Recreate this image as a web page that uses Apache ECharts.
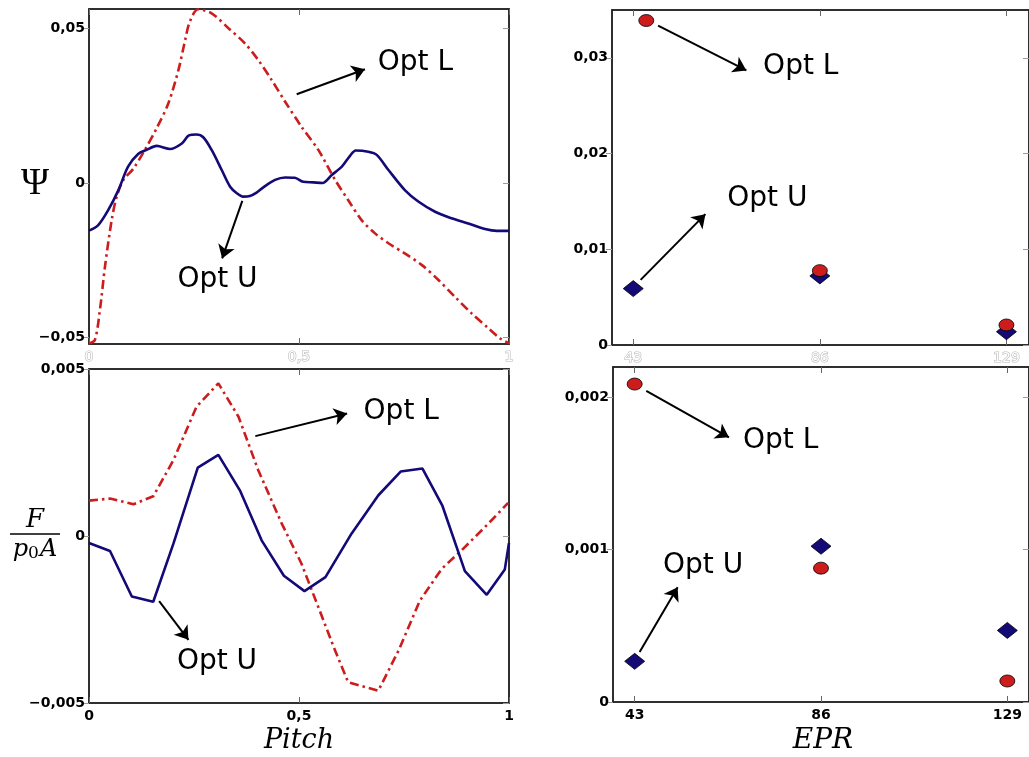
<!DOCTYPE html>
<html>
<head>
<meta charset="utf-8">
<script src="https://cdn.jsdelivr.net/npm/echarts@6/dist/echarts.min.js"></script>
<style>
html,body{margin:0;padding:0;background:#fff;}
#chart{width:1029px;height:757px;}
</style>
</head>
<body>
<div id="chart"></div>
<script>
// ---------- DATA ----------
// Top-left: Psi vs Pitch
const pitchTopU = [0,0.022,0.046,0.070,0.093,0.117,0.137,0.161,0.193,0.221,0.237,0.256,0.272,0.292,0.316,0.336,0.352,0.367,0.383,0.399,0.415,0.443,0.467,0.490,0.510,0.534,0.556,0.578,0.602,0.621,0.635,0.665,0.685,0.713,0.752,0.784,0.824,0.863,0.903,0.943,0.971,1.0];
const psiOptU   = [-0.0154,-0.0136,-0.0087,-0.0023,0.0053,0.0094,0.0107,0.0120,0.0110,0.0128,0.0153,0.0157,0.0148,0.0107,0.0042,-0.0012,-0.0033,-0.0044,-0.0042,-0.0031,-0.0014,0.0010,0.0018,0.0017,0.0004,0.0002,0.0,0.0026,0.0053,0.0087,0.0105,0.0101,0.0091,0.0042,-0.0023,-0.0060,-0.0093,-0.0114,-0.0131,-0.0149,-0.0155,-0.0155];
const pitchTopL = [0,0.014,0.026,0.038,0.054,0.066,0.082,0.106,0.133,0.161,0.189,0.213,0.229,0.240,0.260,0.292,0.332,0.371,0.403,0.435,0.467,0.506,0.546,0.586,0.617,0.649,0.681,0.713,0.752,0.792,0.832,0.871,0.911,0.951,0.979,1.0];
const psiOptL   = [-0.0519,-0.0508,-0.0411,-0.0271,-0.0120,-0.0044,0.0010,0.0047,0.0107,0.0177,0.0258,0.0366,0.0463,0.0522,0.0562,0.0549,0.0501,0.0452,0.0398,0.0333,0.0263,0.0182,0.0107,0.0010,-0.0055,-0.0120,-0.0163,-0.0195,-0.0228,-0.0265,-0.0314,-0.0368,-0.0422,-0.0470,-0.0503,-0.0519];

// Bottom-left: F/(p0 A) vs Pitch
const pitchBotU = [0,0.050,0.102,0.153,0.201,0.259,0.308,0.360,0.411,0.464,0.513,0.563,0.625,0.689,0.742,0.794,0.841,0.895,0.947,0.990,1.0];
const forceOptU = [-0.00021,-0.00045,-0.00181,-0.00197,-0.00023,0.00205,0.00243,0.00135,-0.00013,-0.00119,-0.00165,-0.00123,0.00007,0.00122,0.00193,0.00202,0.00092,-0.00105,-0.00176,-0.00100,-0.00021];
const pitchBotL = [0,0.050,0.106,0.153,0.201,0.256,0.308,0.356,0.403,0.459,0.506,0.546,0.586,0.617,0.689,0.737,0.788,0.840,0.887,0.943,0.998];
const forceOptL = [0.00106,0.00112,0.00095,0.00119,0.00227,0.00387,0.00457,0.00357,0.00197,0.00037,-0.00083,-0.00213,-0.00343,-0.00438,-0.00463,-0.00343,-0.00193,-0.00098,-0.00043,0.00027,0.00099];

// Right column: vs EPR
const eprValues   = [43, 86, 129];
const eprPsiLx    = [46, 86, 129];
const psiEprU     = [0.00589, 0.00722, 0.00139];
const psiEprL     = [0.0339, 0.00777, 0.00209];
const forceEprU   = [0.000267, 0.001023, 0.000470];
const forceEprL   = [0.002088, 0.000879, 0.000138];

// Tick labels
const psiTicks    = [-0.05, 0, 0.05];
const pitchTicks  = [0, 0.5, 1];
const psiEprTicks = [0, 0.01, 0.02, 0.03];
const forceTicks  = [-0.005, 0, 0.005];
const forceEprTicks = [0, 0.001, 0.002];

// ---------- STYLE ----------
const BLUE = '#130a78';
const RED = '#cc1c1c';
const fmt = v => {
  if (v === 0) return '0';
  let s = String(Math.abs(v)).replace('.', ',');
  return (v < 0 ? '\u2212' : '') + s;
};
const zip = (xs, ys) => xs.map((x, i) => [x, ys[i]]);

const boldLabel = { fontFamily: 'DejaVu Sans', fontWeight: 'bold', fontSize: 14, color: '#000' };
const hollowLabel = { fontFamily: 'DejaVu Sans', fontSize: 14, color: '#fff', textBorderColor: '#b8b8b8', textBorderWidth: 1.2 };

const grids = [
  { left: 89, top: 9, width: 420, height: 335 },
  { left: 612, top: 10, width: 420, height: 335 },
  { left: 89, top: 369, width: 420, height: 334 },
  { left: 613, top: 367, width: 420, height: 335 }
].map(g => Object.assign({ show: true, borderColor: '#222', borderWidth: 1.5, backgroundColor: '#fff' }, g));

function xPair(gi, min, max, ticks, label) {
  const main = {
    type: 'value', gridIndex: gi, min, max, position: 'bottom',
    axisLine: { show: true, onZero: false, lineStyle: { color: '#222', width: 1.5 } },
    axisTick: { show: true, inside: true, length: 6, customValues: ticks, lineStyle: { color: '#666' } },
    axisLabel: Object.assign({ show: true, customValues: ticks, margin: 6, formatter: fmt }, label),
    splitLine: { show: false }
  };
  const mirror = {
    type: 'value', gridIndex: gi, min, max, position: 'top',
    axisLine: { show: true, onZero: false, lineStyle: { color: '#222', width: 1.5 } },
    axisTick: { show: true, inside: true, length: 6, customValues: ticks, lineStyle: { color: '#666' } },
    axisLabel: { show: false }, splitLine: { show: false }
  };
  return [main, mirror];
}
function yPair(gi, min, max, ticks) {
  const main = {
    type: 'value', gridIndex: gi, min, max, position: 'left',
    axisLine: { show: true, onZero: false, lineStyle: { color: '#222', width: 1.5 } },
    axisTick: { show: true, inside: false, length: 6, customValues: ticks, lineStyle: { color: '#999' } },
    axisLabel: Object.assign({ show: true, customValues: ticks, margin: 4, formatter: fmt }, boldLabel),
    splitLine: { show: false }
  };
  const mirror = {
    type: 'value', gridIndex: gi, min, max, position: 'right',
    axisLine: { show: true, onZero: false, lineStyle: { color: '#222', width: 1.5 } },
    axisTick: { show: true, inside: true, length: 6, customValues: ticks, lineStyle: { color: '#999' } },
    axisLabel: { show: false }, splitLine: { show: false }
  };
  return [main, mirror];
}

const xAxes = [].concat(
  xPair(0, 0, 1, pitchTicks, hollowLabel),
  xPair(1, 38.1, 134.2, eprValues, hollowLabel),
  xPair(2, 0, 1, pitchTicks, boldLabel),
  xPair(3, 38, 134, eprValues, boldLabel)
);
const yAxes = [].concat(
  yPair(0, -0.0521, 0.0563, psiTicks),
  yPair(1, 0, 0.035, psiEprTicks),
  yPair(2, -0.005, 0.005, forceTicks),
  yPair(3, 0, 0.0022, forceEprTicks)
);

function arrows(list) {
  return {
    silent: true, animation: false,
    symbol: ['none', 'arrow'], symbolSize: 13,
    itemStyle: { color: '#000' },
    lineStyle: { color: '#000', width: 2, type: 'solid' },
    label: { show: false },
    data: list.map(a => [{ coord: a[0] }, { coord: a[1] }])
  };
}
function texts(list) {
  return {
    silent: true, animation: false,
    symbol: 'rect', symbolSize: 1,
    itemStyle: { color: 'rgba(0,0,0,0)' },
    label: { show: true, position: 'inside', color: '#000', fontFamily: 'DejaVu Sans', fontSize: 28 },
    data: list.map(t => ({ coord: t[0], value: t[1], label: { formatter: t[1] } }))
  };
}

const series = [
  // Top-left
  { type: 'line', xAxisIndex: 0, yAxisIndex: 0, data: zip(pitchTopU, psiOptU), showSymbol: false, smooth: 0.3,
    lineStyle: { color: BLUE, width: 2.6 }, z: 3,
    markLine: arrows([[[0.365, -0.0058], [0.317, -0.0244]], [[0.4945, 0.0287], [0.657, 0.0368]]]),
    markPoint: texts([[[0.306, -0.0314], 'Opt U'], [[0.777, 0.0388], 'Opt L']]) },
  { type: 'line', xAxisIndex: 0, yAxisIndex: 0, data: zip(pitchTopL, psiOptL), showSymbol: false, smooth: 0.3,
    lineStyle: { color: RED, width: 2.6, type: [9, 4, 2.5, 4] }, z: 2 },
  // Top-right
  { type: 'scatter', xAxisIndex: 2, yAxisIndex: 2, data: zip(eprValues, psiEprU), symbol: 'diamond', symbolSize: [20, 16],
    itemStyle: { color: BLUE, borderColor: '#000', borderWidth: 0.8, opacity: 1 },
    markLine: arrows([[[48.72, 0.03337], [69.07, 0.02869]], [[44.69, 0.0068], [59.63, 0.01367]]]),
    markPoint: texts([[[81.6, 0.02908], 'Opt L'], [[73.9, 0.01527], 'Opt U']]) },
  { type: 'scatter', xAxisIndex: 2, yAxisIndex: 2, data: zip(eprPsiLx, psiEprL), symbol: 'circle', symbolSize: [15, 12],
    itemStyle: { color: RED, borderColor: '#000', borderWidth: 0.8, opacity: 1 } },
  // Bottom-left
  { type: 'line', xAxisIndex: 4, yAxisIndex: 4, data: zip(pitchBotU, forceOptU), showSymbol: false,
    lineStyle: { color: BLUE, width: 2.6 }, z: 3,
    markLine: arrows([[[0.396, 0.00299], [0.6146, 0.00367]], [[0.167, -0.00195], [0.2368, -0.00311]]]),
    markPoint: texts([[[0.7434, 0.00371], 'Opt L'], [[0.3048, -0.00376], 'Opt U']]) },
  { type: 'line', xAxisIndex: 4, yAxisIndex: 4, data: zip(pitchBotL, forceOptL), showSymbol: false,
    lineStyle: { color: RED, width: 2.6, type: [9, 4, 2.5, 4] }, z: 2 },
  // Bottom-right
  { type: 'scatter', xAxisIndex: 6, yAxisIndex: 6, data: zip(eprValues, forceEprU), symbol: 'diamond', symbolSize: [20, 16],
    itemStyle: { color: BLUE, borderColor: '#000', borderWidth: 0.8, opacity: 1 },
    markLine: arrows([[[45.68, 0.002044], [64.76, 0.001738]], [[44.15, 0.000328], [52.92, 0.000754]]]),
    markPoint: texts([[[76.7, 0.001716], 'Opt L'], [[58.8, 0.000896], 'Opt U']]) },
  { type: 'scatter', xAxisIndex: 6, yAxisIndex: 6, data: zip(eprValues, forceEprL), symbol: 'circle', symbolSize: [15, 12],
    itemStyle: { color: RED, borderColor: '#000', borderWidth: 0.8, opacity: 1 } }
];

const serif = '"DejaVu Serif"';
const graphic = [
  { type: 'text', x: 35, y: 184, style: { text: '\u03A8', font: 'normal 38px "Liberation Serif"', fill: '#000', textAlign: 'center', textVerticalAlign: 'middle' } },
  { type: 'text', x: 35, y: 520, style: { text: 'F', font: 'italic 26px ' + serif, fill: '#000', textAlign: 'center', textVerticalAlign: 'middle' } },
  { type: 'line', shape: { x1: 10, y1: 534, x2: 60, y2: 534 }, style: { stroke: '#000', lineWidth: 1.5 } },
  { type: 'text', x: 35, y: 550, style: { text: '{i|p}{s|0}{i|A}', fill: '#000', textAlign: 'center', textVerticalAlign: 'middle',
      rich: { i: { font: 'italic 24px ' + serif, fill: '#000' }, s: { font: 'normal 17px ' + serif, fill: '#000', padding: [8, 1, 0, 0] } } } },
  { type: 'text', x: 299, y: 741, style: { text: 'Pitch', font: 'italic 27px ' + serif, fill: '#000', textAlign: 'center', textVerticalAlign: 'middle' } },
  { type: 'text', x: 823, y: 741, style: { text: 'EPR', font: 'italic 28px ' + serif, fill: '#000', textAlign: 'center', textVerticalAlign: 'middle' } }
];

const chart = echarts.init(document.getElementById('chart'));
chart.setOption({
  animation: false,
  backgroundColor: '#fff',
  grid: grids,
  xAxis: xAxes,
  yAxis: yAxes,
  series: series,
  graphic: graphic
});
</script>
</body>
</html>
